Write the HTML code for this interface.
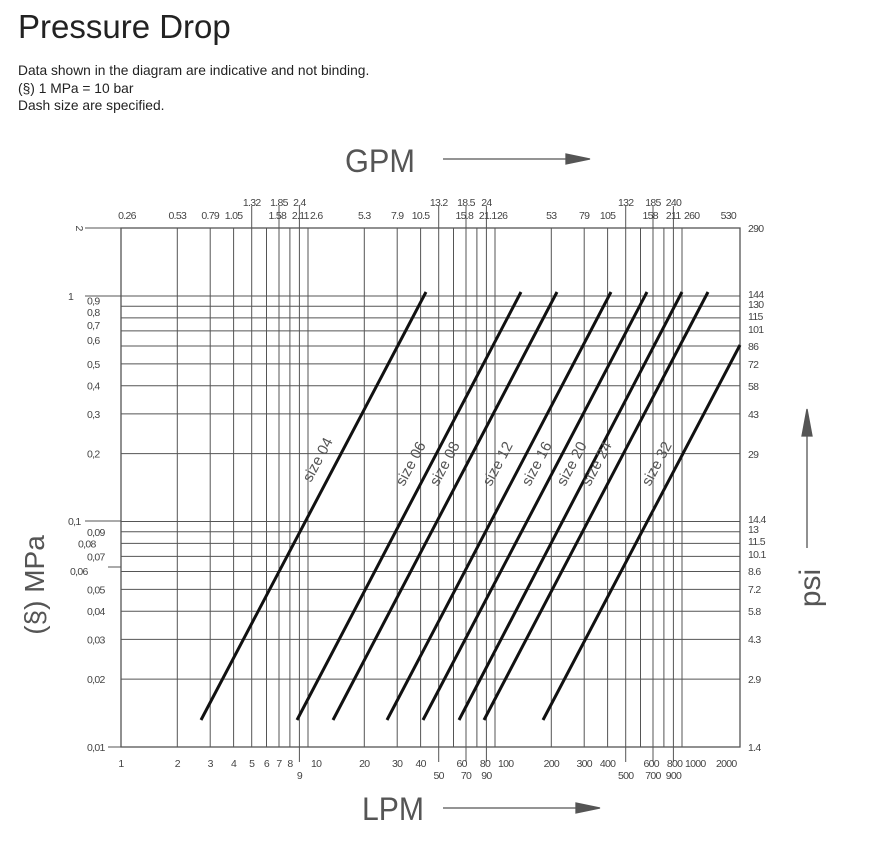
<!DOCTYPE html>
<html><head><meta charset="utf-8"><style>
body{margin:0;background:#fff;font-family:"Liberation Sans",sans-serif;color:#222}
.t{position:absolute;left:18px;top:8px;font-size:33px;color:#222}
.p{position:absolute;left:18px;top:62px;font-size:13.8px;line-height:17.5px;color:#222}
svg{position:absolute;left:0;top:0}
#lbl text{letter-spacing:-0.7px}
</style></head><body>
<div class="t">Pressure Drop</div>
<div class="p">Data shown in the diagram are indicative and not binding.<br>(§) 1 MPa = 10 bar<br>Dash size are specified.</div>
<svg width="884" height="844" viewBox="0 0 884 844" font-family="Liberation Sans Narrow, Liberation Sans, sans-serif" fill="#444">
<g stroke="#555" stroke-width="1">
<rect x="121" y="228" width="619" height="519" fill="none" stroke-width="1.3"/>
<line x1="85" y1="228" x2="121" y2="228"/>
<line x1="85" y1="296" x2="121" y2="296"/>
<line x1="85" y1="521" x2="121" y2="521"/>
<line x1="108" y1="567" x2="121" y2="567"/>
<line x1="108" y1="747" x2="121" y2="747"/>
</g>
<g stroke="#555" stroke-width="1" id="grid"></g>
<g id="lbl" font-size="10.5"></g>
<g stroke="#111" stroke-width="3" stroke-linecap="butt">
<line x1="201" y1="720" x2="426" y2="292"/>
<line x1="297" y1="720" x2="521" y2="292"/>
<line x1="333" y1="720" x2="557" y2="292"/>
<line x1="387" y1="720" x2="611" y2="292"/>
<line x1="423" y1="720" x2="647" y2="292"/>
<line x1="459" y1="720" x2="682" y2="292"/>
<line x1="484" y1="720" x2="708" y2="292"/>
<line x1="543" y1="720" x2="740" y2="345"/>
</g>
<g font-size="15" fill="#555" text-anchor="middle">
<text transform="translate(322,462) rotate(-62)">size 04</text>
<text transform="translate(415,466) rotate(-62)">size 06</text>
<text transform="translate(449,466) rotate(-62)">size 08</text>
<text transform="translate(502,466) rotate(-62)">size 12</text>
<text transform="translate(541,466) rotate(-62)">size 16</text>
<text transform="translate(576,466) rotate(-62)">size 20</text>
<text transform="translate(601,466) rotate(-62)">size 24</text>
<text transform="translate(661,466) rotate(-62)">size 32</text>
</g>
<g fill="#555" font-size="32" font-weight="normal">
<text x="345" y="172" textLength="70" lengthAdjust="spacingAndGlyphs">GPM</text>
<text x="362" y="820" textLength="62" lengthAdjust="spacingAndGlyphs">LPM</text>
<text transform="translate(44,585) rotate(-90)" text-anchor="middle" font-size="28">(§) MPa</text>
<text transform="translate(820,588) rotate(-90)" text-anchor="middle" font-size="30">psi</text>
</g>
<g stroke="#555" stroke-width="1.3" fill="#555">
<line x1="443" y1="159" x2="570" y2="159"/><polygon points="566,154 590,159 566,164"/>
<line x1="443" y1="808" x2="580" y2="808"/><polygon points="576,803 600,808 576,813"/>
<line x1="807" y1="548" x2="807" y2="430"/><polygon points="802,436 807,409 812,436"/>
</g>
</svg>
<script>
(function(){
const g=document.getElementById('grid'),L=document.getElementById('lbl');
const X=v=>121+187*Math.log10(v),Y=v=>296-225.5*Math.log10(v);
let s='';
const xs=[2,3,4,5,6,7,8,9,10,20,30,40,50,60,70,80,90,100,200,300,400,500,600,700,800,900,1000];
const ext=[5,7,9,50,70,90,500,700,900];
const extB=[9,50,70,90,500,700,900];
for(const v of xs){const x=X(v).toFixed(1);let y1=ext.includes(v)?206:228,y2=extB.includes(v)?762:747;s+=`<line x1="${x}" y1="${y1}" x2="${x}" y2="${y2}"/>`;}
const ys=[0.9,0.8,0.7,0.6,0.5,0.4,0.3,0.2,0.09,0.08,0.07,0.06,0.05,0.04,0.03,0.02,1,0.1];
for(const v of ys){const y=Y(v).toFixed(1);s+=`<line x1="121" y1="${y}" x2="740" y2="${y}"/>`;}
g.innerHTML=s;
let t='';
const bot=[[1,''],[2,''],[3,''],[4,''],[5,''],[6,''],[7,''],[8,''],[10,'s'],[20,''],[30,''],[40,''],[60,'s'],[80,'s'],[100,'s'],[200,''],[300,''],[400,''],[600,'s'],[800,'s'],[1000,'s'],[2000,'e']];
for(const[v,a]of bot){let x=X(v);let anc='middle';if(a=='s'){x+=3;anc='start'}if(a=='e'){x-=12}t+=`<text x="${x.toFixed(1)}" y="767" text-anchor="${anc}">${v}</text>`;}
for(const v of [9,50,70,90,500,700,900])t+=`<text x="${X(v).toFixed(1)}" y="779" text-anchor="middle">${v}</text>`;
const tp=[[1,'0.26','m'],[2,'0.53','m'],[3,'0.79','m'],[4,'1.05','m'],[6,'1.58','s'],[8,'2.11','s'],[10,'2.6','s'],[20,'5.3','m'],[30,'7.9','m'],[40,'10.5','m'],[60,'15.8','s'],[80,'21.1','s'],[100,'26','s'],[200,'53','m'],[300,'79','m'],[400,'105','m'],[600,'158','s'],[800,'211','s'],[1000,'260','s'],[2000,'530','e']];
for(const[v,l,a]of tp){let x=X(v);let anc='middle';if(a=='s'){x+=2;anc='start'}if(a=='m'&&v==1)x+=6;if(a=='e')x-=10;t+=`<text x="${x.toFixed(1)}" y="219" text-anchor="${anc}">${l}</text>`;}
const tp1=[[5,'1.32'],[7,'1.85'],[9,'2.4'],[50,'13.2'],[70,'18.5'],[90,'24'],[500,'132'],[700,'185'],[900,'240']];
for(const[v,l]of tp1)t+=`<text x="${X(v).toFixed(1)}" y="206" text-anchor="middle">${l}</text>`;
const lf=[[0.9,'0,9'],[0.8,'0,8'],[0.7,'0,7'],[0.6,'0,6'],[0.5,'0,5'],[0.4,'0,4'],[0.3,'0,3'],[0.2,'0,2'],[0.09,'0,09'],[0.08,'0,08'],[0.07,'0,07'],[0.05,'0,05'],[0.04,'0,04'],[0.03,'0,03'],[0.02,'0,02'],[0.01,'0,01']];
for(const[v,l]of lf){t+=`<text x="${v==0.08?78:87}" y="${(Y(v)+(v>=0.6&&v<1?-2:4)).toFixed(1)}">${l}</text>`;}
t+=`<text x="68" y="300">1</text><text x="68" y="525">0,1</text><text x="70" y="575">0,06</text>`;
t+=`<text transform="translate(76,228) rotate(90)" text-anchor="middle">2</text>`;
const psi=[[228,'290'],[296,'144'],[306,'130'],[318,'115'],[331,'101'],[346,'86'],[364,'72'],[386,'58'],[414,'43'],[454,'29'],[521,'14.4'],[531,'13'],[543,'11.5'],[556,'10.1'],[571,'8.6'],[589,'7.2'],[611,'5.8'],[639,'4.3'],[679,'2.9'],[747,'1.4']];
for(const[y,l]of psi){const dy=(y>=296&&y<=331)||(y>=521&&y<=556)?2:4;t+=`<text x="748" y="${y+dy}">${l}</text>`;}
L.innerHTML=t;
})();
</script>
</body></html>
